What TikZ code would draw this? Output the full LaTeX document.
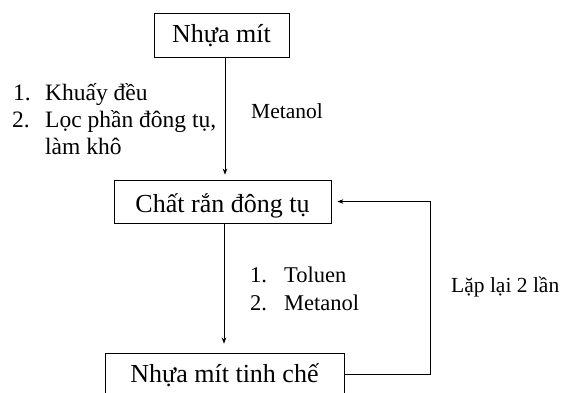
\documentclass[tikz,border=0pt]{standalone}
\usepackage{fontspec}
\setmainfont{Liberation Serif}
\usetikzlibrary{arrows.meta}
\begin{document}
\begin{tikzpicture}[x=1pt,y=-1pt,
  box/.style={draw, line width=0.8pt, inner xsep=0pt, inner ysep=0pt,
    font=\fontsize{26}{31}\selectfont},
  lbl/.style={anchor=base west, inner sep=0pt, font=\fontsize{21.5}{26}\selectfont},
  lstbig/.style={lbl, font=\fontsize{23.5}{28}\selectfont},
  lstmid/.style={lbl, font=\fontsize{22.5}{27}\selectfont},
  arr/.style={line width=0.7pt, -{Stealth[length=6pt,width=4.5pt]}}]
\useasboundingbox (0,0) rectangle (564,392);
\clip (0,0) rectangle (564,392);

% process steps
\node[box, minimum width=135pt, text height=29pt, text depth=15pt] (n1) at (221.5,35) {Nhựa mít};
\node[box, minimum width=217pt, text height=32pt, text depth=11pt] (n2) at (222.5,201.5) {Chất rắn đông tụ};
\node[box, minimum width=239pt, text height=29pt, text depth=13pt] (n3) at (224.5,374) {Nhựa mít tinh chế};

% main flow
\draw[arr, shorten >=5pt] (n1.south -| 225,0) -- (n2.north -| 225,0);
\draw[arr, shorten >=9pt] (n2.south -| 224,0) -- (n3.north -| 224,0);

% repeat loop
\coordinate (loop) at (430,374);
\draw[arr, shorten >=6pt] (n3.east) -- (loop) |- (n2.east);

% step 1 conditions
\node[lbl] (m1) at (251,118) {Metanol};
\node[lstbig] (k1n) at (13,100) {1.};
\node[lstbig] (k1) at (45,100) {Khuấy đều};
\node[lstbig] (k2n) at (12,127.5) {2.};
\node[lstbig] (k2) at (45,127.5) {Lọc phần đông tụ,};
\node[lstbig] (k3) at (45,154.5) {làm khô};

% step 2 conditions
\node[lstmid] (t1n) at (250,282.5) {1.};
\node[lstmid] (t1) at (284,282.5) {Toluen};
\node[lstmid] (t2n) at (250,310) {2.};
\node[lstmid] (t2) at (284,310) {Metanol};

% loop label
\node[lbl] (rep) at (451,292) {Lặp lại 2 lần};
\end{tikzpicture}
\end{document}
